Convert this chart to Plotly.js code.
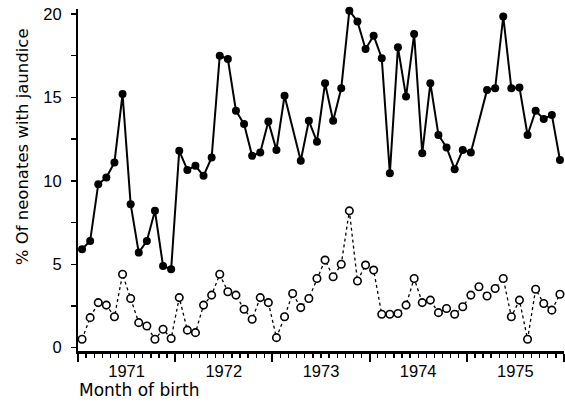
<!DOCTYPE html>
<html>
<head>
<meta charset="utf-8">
<script src="https://cdn.plot.ly/plotly-3.0.1.min.js"></script>
<style>
  html, body { margin: 0; padding: 0; background: #ffffff; }
  #chart { width: 565px; height: 403px; }
</style>
</head>
<body>
<div id="chart"></div>
<script>
// Month of birth: January 1971 to December 1975 (one value per month)
const startYear = 1971;
const yearLabels = ['1971', '1972', '1973', '1974', '1975'];

// % of neonates with jaundice (filled circles); null = month without a plotted marker
const jaundiceFilled = [
  5.9, 6.4, 9.8, 10.2, 11.1, 15.2, 8.6, 5.7, 6.4, 8.2, 4.9, 4.7,
  11.8, 10.65, 10.9, 10.3, 11.4, 17.5, 17.3, 14.2, 13.4, 11.5, 11.7, 13.55,
  11.85, 15.1, null, 11.2, 13.6, 12.35, 15.85, 13.6, 15.55, 20.2, 19.55, 17.9,
  18.7, 17.35, 10.45, 18.0, 15.05, 18.8, 11.65, 15.85, 12.75, 12.0, 10.7, 11.85,
  11.7, null, 15.45, 15.55, 19.85, 15.55, 15.6, 12.75, 14.2, 13.7, 13.95, 11.25
];

// % of neonates with jaundice (open circles)
const jaundiceOpen = [
  0.5, 1.8, 2.7, 2.55, 1.85, 4.4, 2.95, 1.5, 1.3, 0.5, 1.1, 0.55,
  3.0, 1.05, 0.9, 2.55, 3.15, 4.4, 3.35, 3.15, 2.3, 1.7, 3.0, 2.7,
  0.6, 1.85, 3.25, 2.4, 2.95, 4.15, 5.25, 4.25, 5.0, 8.2, 4.0, 4.95,
  4.65, 2.0, 2.0, 2.05, 2.55, 4.15, 2.7, 2.85, 2.1, 2.35, 2.0, 2.45,
  3.15, 3.65, 3.1, 3.55, 4.15, 1.85, 2.85, 0.5, 3.5, 2.65, 2.25, 3.2
];

const yTickVals = [0, 2.5, 5, 7.5, 10, 12.5, 15, 17.5, 20];
const yTickText = ['0', '', '5', '', '10', '', '15', '', '20'];

// month positions (mid-month, in years)
const monthPos = jaundiceOpen.map((_, i) => startYear + (i + 0.5) / 12);
const nYears = yearLabels.length;
const yearMids = yearLabels.map(y => Number(y) + 0.5);

const FONT = 'DejaVu Sans, sans-serif';
const TICKFONT = 'Liberation Sans, Arial, sans-serif';
const xRange = [startYear, startYear + nYears];

const traces = [
  {
    x: monthPos, y: jaundiceFilled, type: 'scatter', mode: 'lines+markers',
    xaxis: 'x', yaxis: 'y',
    connectgaps: true, cliponaxis: false,
    line: { color: '#000', width: 2 },
    marker: { color: '#000', size: 8, symbol: 'circle' },
    hoverinfo: 'x+y'
  },
  {
    x: monthPos, y: jaundiceOpen, type: 'scatter', mode: 'lines+markers',
    xaxis: 'x2', yaxis: 'y',
    cliponaxis: false,
    line: { color: '#000', width: 1.3, dash: 'dot' },
    marker: { color: '#fff', size: 7.5, symbol: 'circle', line: { color: '#000', width: 1.6 } },
    hoverinfo: 'x+y'
  }
];

const layout = {
  width: 565, height: 403,
  margin: { l: 78, r: 1, t: 9, b: 52 },
  paper_bgcolor: '#fff', plot_bgcolor: '#fff',
  showlegend: false,
  font: { family: FONT, color: '#000', size: 16 },
  xaxis: {
    range: xRange,
    showgrid: false, zeroline: false,
    showline: true, linecolor: '#000', linewidth: 2.5,
    tickmode: 'linear', tick0: startYear, dtick: 1,
    ticks: 'outside', ticklen: 8, tickwidth: 2.2, tickcolor: '#000',
    showticklabels: false,
    minor: { tickmode: 'linear', tick0: startYear, dtick: 1 / 12, ticks: 'outside', ticklen: 4, tickwidth: 1.3, tickcolor: '#000', showgrid: false }
  },
  xaxis2: {
    range: xRange, overlaying: 'x', anchor: 'y', side: 'bottom',
    showgrid: false, zeroline: false, showline: false,
    tickmode: 'array', tickvals: yearMids, ticktext: yearLabels,
    ticks: 'outside', ticklen: 5, tickcolor: 'rgba(0,0,0,0)',
    tickfont: { family: TICKFONT, size: 16.5, color: '#000' }
  },
  yaxis: {
    range: [-0.2, 20.3],
    showgrid: false, zeroline: false,
    showline: true, linecolor: '#000', linewidth: 2,
    tickmode: 'array', tickvals: yTickVals, ticktext: yTickText,
    ticks: 'outside', ticklen: 5, tickwidth: 1.5, tickcolor: '#000',
    ticklabelstandoff: 6,
    tickfont: { family: TICKFONT, size: 16.5, color: '#000' }
  },
  annotations: [
    {
      text: '% Of neonates with jaundice', textangle: -90,
      xref: 'paper', yref: 'paper', x: -0.115, y: 0.596,
      xanchor: 'center', yanchor: 'middle', showarrow: false,
      font: { family: FONT, size: 16.5, color: '#000' }
    },
    {
      text: 'Month of birth',
      xref: 'paper', yref: 'paper', x: -0.002, y: -0.08,
      xanchor: 'left', yanchor: 'top', showarrow: false,
      font: { family: FONT, size: 17, color: '#000' }
    }
  ]
};

Plotly.newPlot('chart', traces, layout, { displayModeBar: false, staticPlot: true });
</script>
</body>
</html>
